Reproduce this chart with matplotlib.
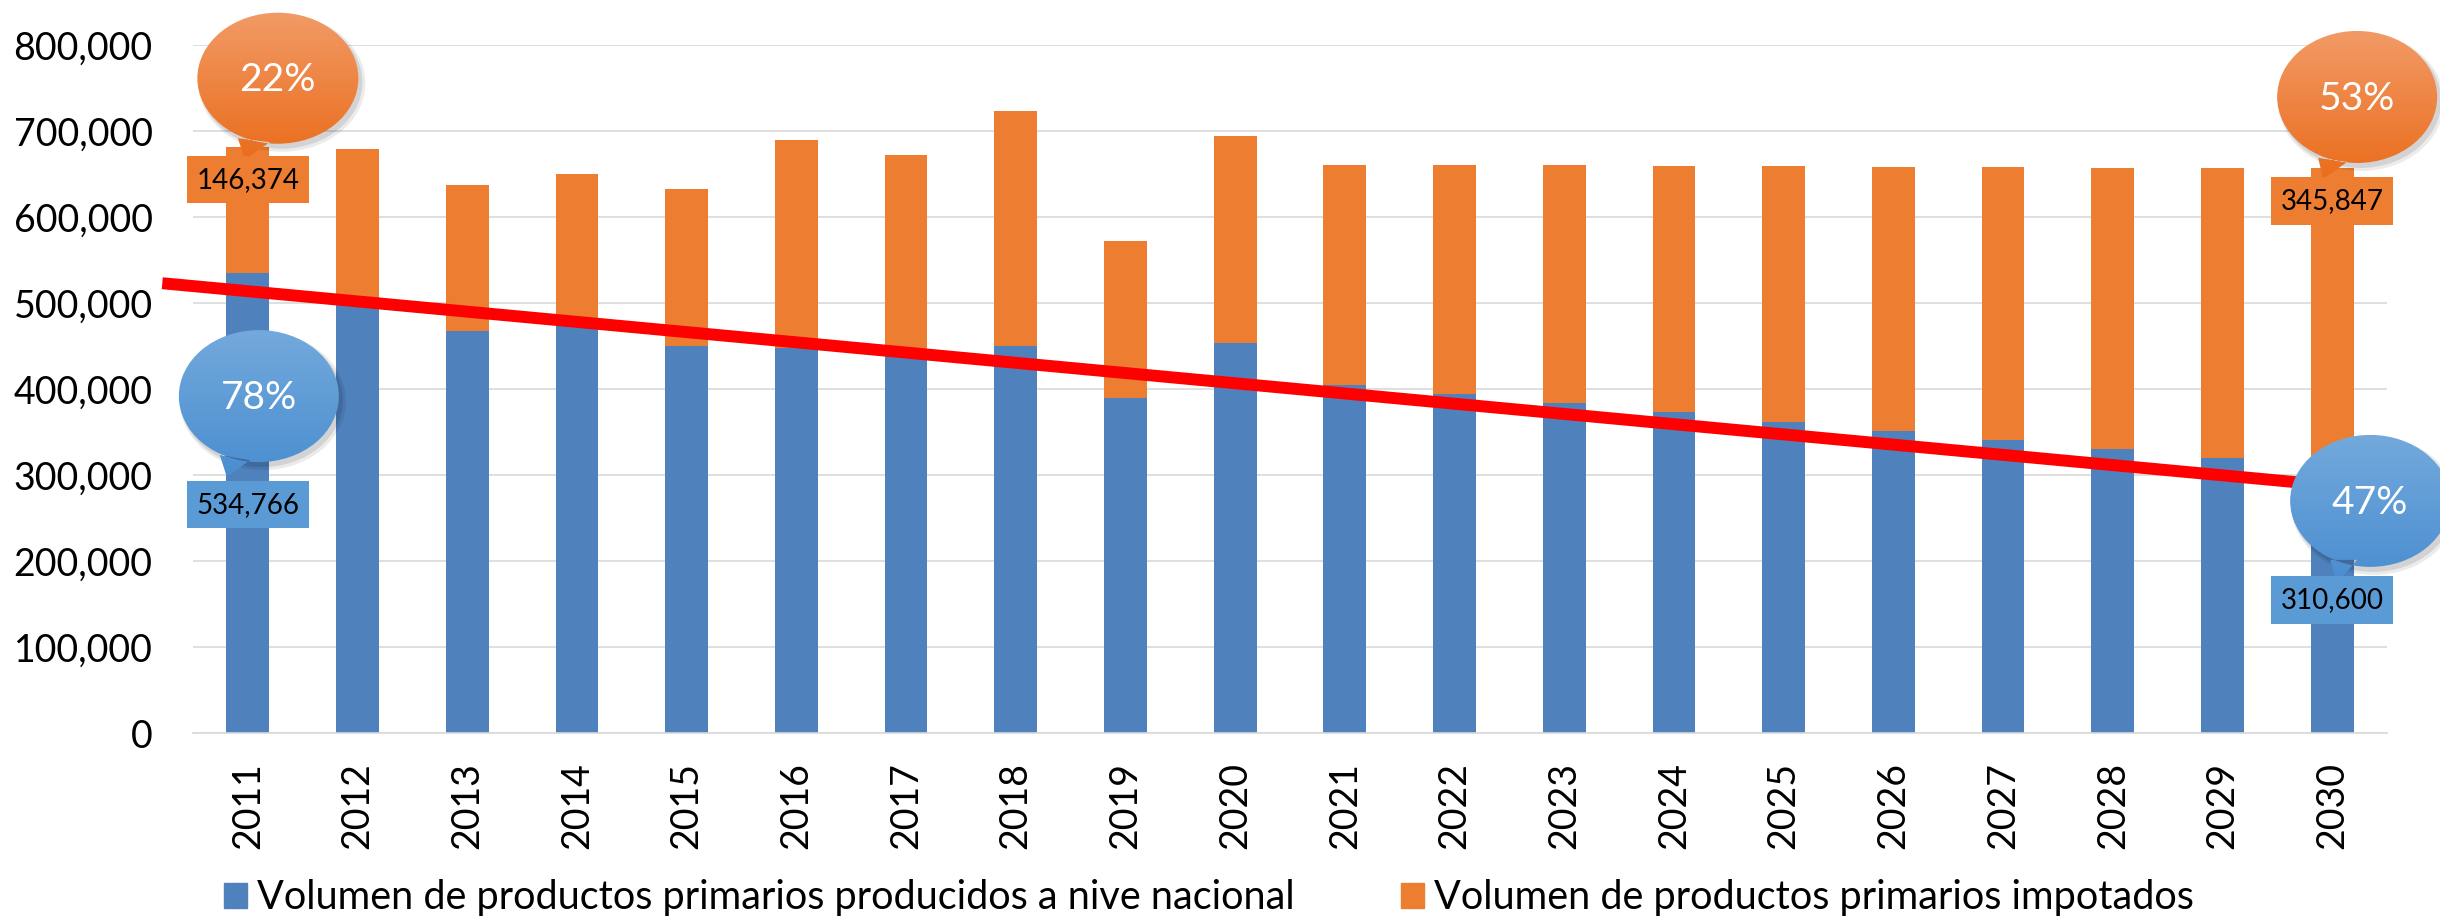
import numpy as np
import matplotlib
matplotlib.use("Agg")
import matplotlib.pyplot as plt
from matplotlib.patches import Rectangle, Ellipse, PathPatch
from matplotlib.path import Path
from matplotlib.colors import LinearSegmentedColormap

plt.rcParams['font.family'] = ['Lato', 'DejaVu Sans']

years = [str(y) for y in range(2011, 2031)]
nacional = [534766, 502000, 468000, 473000, 450000, 448000, 443000, 450000, 390000, 453000,
            405000, 394000, 384000, 373000, 362000, 351000, 341000, 330000, 320000, 310600]
importado = [146374, 177000, 169000, 177000, 183000, 241000, 229000, 273000, 182000, 241000,
             255000, 266000, 276000, 286000, 297000, 307000, 317000, 327000, 337000, 345847]
trend_x = [-0.78, 19.65]
trend_y = [523000, 280000]
label_nacional = "Volumen de productos primarios producidos a nive nacional"
label_importado = "Volumen de productos primarios impotados"
# callouts: (bar index, share text)
pct_imp = {0: "22%", 19: "53%"}
pct_nac = {0: "78%", 19: "47%"}

W, H = 2440, 919
blue = "#4F81BD"
orange = "#ED7D31"

fig = plt.figure(figsize=(W / 100, H / 100), dpi=100)
ax = fig.add_axes([193 / W, 186 / H, (2387 - 193) / W, 688 / H])

x = np.arange(len(years))
ax.bar(x, nacional, width=0.39, color=blue, zorder=2)
ax.bar(x, importado, width=0.39, bottom=nacional, color=orange, zorder=2)
ax.plot(trend_x, trend_y, color="#FF0000", lw=8.6, solid_capstyle="butt",
        zorder=3, clip_on=False)

ax.set_xlim(-0.5, len(years) - 0.5)
ax.set_ylim(0, 800000)
ax.set_yticks(range(0, 800001, 100000))
ax.set_yticklabels([f"{v:,}" for v in range(0, 800001, 100000)], fontsize=27)
ax.set_xticks(x)
ax.set_xticklabels(years, rotation=90, fontsize=27)
ax.tick_params(axis="y", length=0, pad=29)
ax.tick_params(axis="x", length=0, pad=21)
ax.grid(axis="y", color="#D9D9D9", lw=1.2)
ax.set_axisbelow(True)
for s in ["top", "right", "left"]:
    ax.spines[s].set_visible(False)
ax.spines["bottom"].set_color("#D9D9D9")
ax.spines["bottom"].set_linewidth(1.2)

handles = [Rectangle((0, 0), 1, 1, color=blue), Rectangle((0, 0), 1, 1, color=orange)]
fig.legend(handles, [label_nacional, label_importado], loc="center left",
           bbox_to_anchor=(224 / W, 21 / H), ncol=2, frameon=False, fontsize=28.5,
           handlelength=0.58, handleheight=0.58, handletextpad=0.25,
           columnspacing=2.7, borderpad=0, borderaxespad=0)

# overlay in pixel coordinates for callouts
ov = fig.add_axes([0, 0, 1, 1], zorder=5)
ov.set_xlim(0, W)
ov.set_ylim(0, H)
ov.axis("off")
ov.patch.set_alpha(0)


def callout(ix, val, text, box_text, box_color, c_top, c_bot,
            ell, size, tail, box_dy):
    ax0, ay0 = ax.transData.transform((ix, val))
    cx, cy = ax0 + ell[0], ay0 + ell[1]
    w, h = size
    # shadow
    ov.add_patch(Ellipse((cx + 4, cy - 5), w + 6, h + 6, color="#000000", alpha=0.08, lw=0))
    ov.add_patch(Ellipse((cx + 3, cy - 4), w + 2, h + 2, color="#000000", alpha=0.10, lw=0))
    ell_patch = Ellipse((cx, cy), w, h, color="none", lw=0)
    tail_pts = [(ax0 + dx, ay0 + dy) for dx, dy in tail]
    ell_path = ell_patch.get_path().transformed(ell_patch.get_patch_transform())
    tri = Path(tail_pts + [tail_pts[0]], closed=True)
    shape = Path.make_compound_path(ell_path, tri)
    clip = PathPatch(shape, facecolor="none", edgecolor="none")
    ov.add_patch(clip)
    cmap = LinearSegmentedColormap.from_list("g", [c_bot, c_top])
    grad = np.linspace(0, 1, 64).reshape(-1, 1)
    ymin = min(cy - h / 2, min(p[1] for p in tail_pts))
    im = ov.imshow(grad, cmap=cmap, origin="lower", aspect="auto",
                   extent=(cx - w / 2 - 5, cx + w / 2 + 5, ymin, cy + h / 2),
                   interpolation="bilinear", zorder=2)
    im.set_clip_path(clip)
    ov.text(cx, cy - 2, text, color="white", fontsize=28, ha="center", va="center", zorder=4)
    b0, b1 = box_dy
    ov.add_patch(Rectangle((ax0 - 61, ay0 + b0), 122, b1 - b0, color=box_color, lw=0, zorder=3))
    ov.text(ax0, ay0 + (b0 + b1) / 2, box_text, color="black", fontsize=20,
            ha="center", va="center", zorder=4)


tot = [n + i for n, i in zip(nacional, importado)]
o_top, o_bot = "#F29A66", "#EA6D1C"
b_top, b_bot = "#73A9DC", "#4A8ED0"
callout(0, tot[0], pct_imp[0], f"{importado[0]:,}", orange, o_top, o_bot,
        (30, 69), (161, 131), [(-10, 9), (22, 5), (-3, -12)], (-56, -9))
callout(0, nacional[0], pct_nac[0], f"{nacional[0]:,}", "#5B9BD5", b_top, b_bot,
        (11, -123), (160, 132), [(-28, -182), (2, -187), (-21, -204)], (-255, -208))
callout(19, tot[19], pct_imp[19], f"{importado[19]:,}", orange, o_top, o_bot,
        (25, 71.5), (160, 132), [(-14, 10.5), (15, 6.5), (-9, -10.5)], (-56.5, -8.5))
callout(19, nacional[19], pct_nac[19], f"{nacional[19]:,}", "#5B9BD5", b_top, b_bot,
        (38, -35), (160, 132), [(-2, -94), (25, -94), (5, -117)], (-158, -110))

fig.savefig("out.png", dpi=100)
